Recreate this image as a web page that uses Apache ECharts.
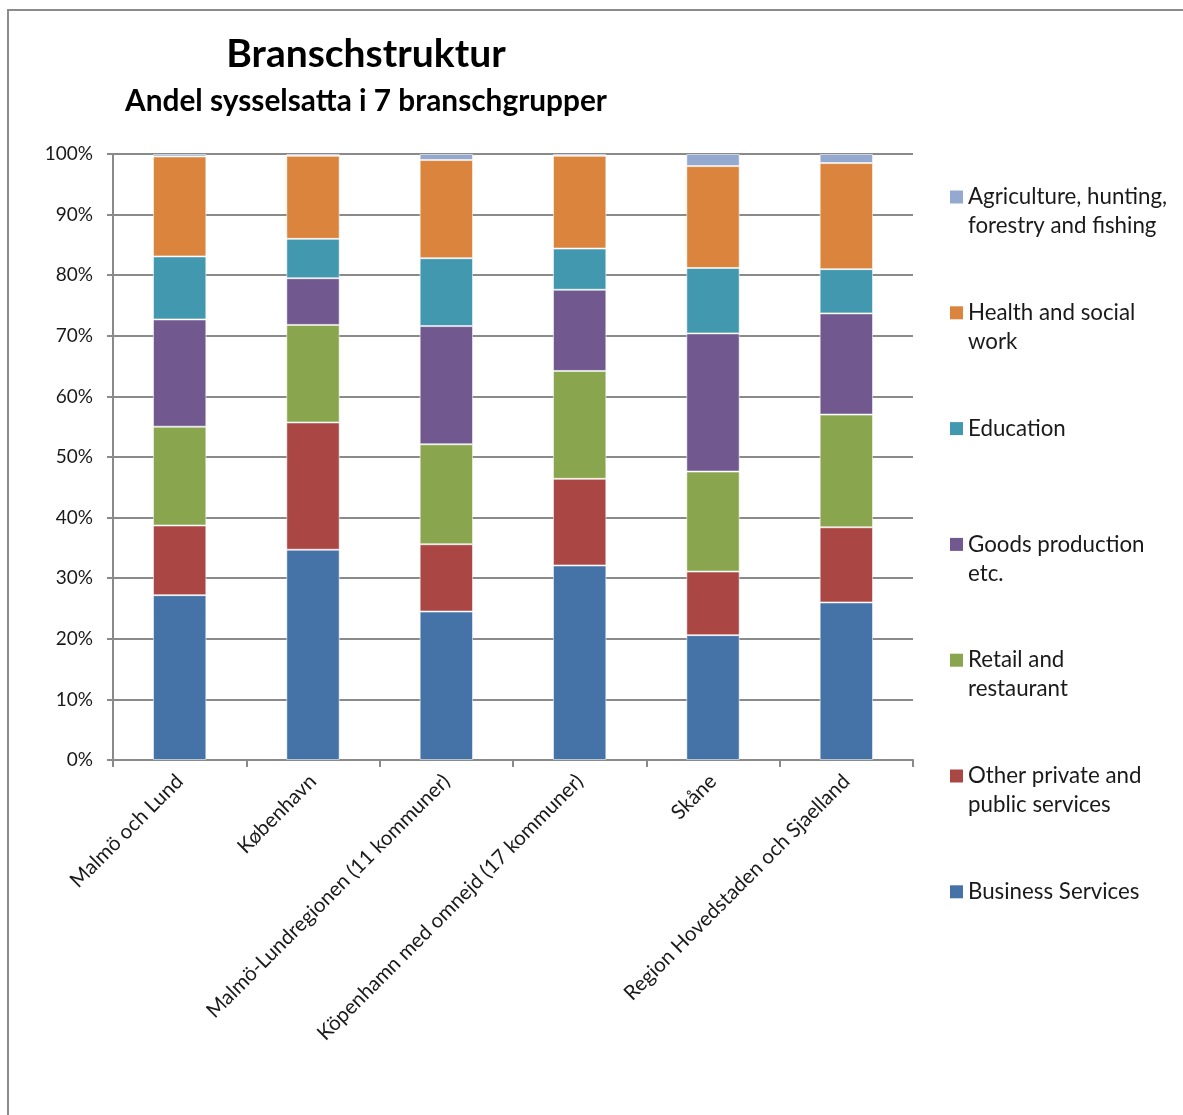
<!DOCTYPE html>
<html>
<head>
<meta charset="utf-8">
<script src="https://cdn.jsdelivr.net/npm/echarts@6/dist/echarts.min.js"></script>
<style>
  html, body { margin: 0; padding: 0; background: #fff; }
  #myChart { width: 1183px; height: 1115px; }
</style>
</head>
<body>
<div id="myChart"></div>
<script>
var categories = [
  "Malmö och Lund",
  "København",
  "Malmö-Lundregionen (11 kommuner)",
  "Köpenhamn med omnejd (17 kommuner)",
  "Skåne",
  "Region Hovedstaden och Sjaelland"
];
var yTicks = [0, 10, 20, 30, 40, 50, 60, 70, 80, 90, 100];

// andel sysselsatta i procent, nerifrån och upp
var businessServices = [27.2, 34.7, 24.5, 32.1, 20.6, 26.0];
var otherServices = [11.5, 21.0, 11.1, 14.3, 10.5, 12.4];
var retailRestaurant = [16.3, 16.1, 16.5, 17.8, 16.5, 18.6];
var goodsProduction = [17.7, 7.7, 19.5, 13.4, 22.8, 16.7];
var education = [10.4, 6.5, 11.2, 6.8, 10.8, 7.3];
var healthSocial = [16.5, 13.7, 16.2, 15.3, 16.8, 17.5];
var agriculture = [0.4, 0.3, 1.0, 0.3, 2.0, 1.5];

var seriesNames = [
  "Business Services",
  "Other private and public services",
  "Retail and restaurant",
  "Goods production etc.",
  "Education",
  "Health and social work",
  "Agriculture, hunting, forestry and fishing"
];
// legendtext, rad 1 och rad 2
var legendLine1 = ["Business Services", "Other private and", "Retail and", "Goods production", "Education", "Health and social", "Agriculture, hunting,"];
var legendLine2 = ["", "public services", "restaurant", "etc.", "", "work", "forestry and fishing"];
var colors = ["#4572A7", "#AA4643", "#89A54E", "#71588F", "#4198AF", "#DB843D", "#93A9CF"];
var values = [businessServices, otherServices, retailRestaurant, goodsProduction, education, healthSocial, agriculture];

var fontFamily = "Lato, 'Open Sans', sans-serif";
var gridColor = "#8a8a8a";
var textColor = "#1a1a1a";

var chartDom = echarts.init(document.getElementById("myChart"));

var series = seriesNames.map(function (name, i) {
  return {
    name: name,
    type: "bar",
    stack: "total",
    barWidth: "40%",
    itemStyle: {
      color: colors[i],
      borderColor: "rgba(255,255,255,0.55)",
      borderWidth: 1
    },
    data: values[i]
  };
});

// en legend per serie, översta först
var legendX = 950;
var legendTop = 197;
var legendStep = 115.8;
var legends = [];
var graphics = [
  {
    type: "rect",
    shape: { x: 8, y: 10, width: 1300, height: 1300 },
    style: { fill: "none", stroke: "#8c8c8c", lineWidth: 2 },
    silent: true
  }
];
seriesNames.forEach(function (name, i) {
  var row = seriesNames.length - 1 - i;
  var cy = legendTop + row * legendStep;
  legends.push({
    orient: "vertical",
    left: legendX,
    top: cy - 14.5,
    padding: 0,
    itemWidth: 13,
    itemHeight: 13,
    icon: "rect",
    itemStyle: { borderWidth: 0 },
    data: [name],
    formatter: function () {
      return legendLine1[i];
    },
    textStyle: {
      fontFamily: fontFamily,
      fontSize: 22.3,
      lineHeight: 29,
      color: textColor
    }
  });
  if (legendLine2[i]) {
    graphics.push({
      type: "text",
      x: legendX + 18,
      y: cy + 29,
      silent: true,
      style: {
        text: legendLine2[i],
        fontFamily: fontFamily,
        fontSize: 22.3,
        fill: textColor,
        verticalAlign: "middle"
      }
    });
  }
});

var option = {
  animation: false,
  textStyle: { fontFamily: fontFamily },
  graphic: graphics,
  title: [
    {
      text: "Branschstruktur",
      left: 366,
      top: 35,
      padding: 0,
      textAlign: "center",
      textStyle: { fontFamily: fontFamily, fontSize: 39, fontWeight: "bold", color: "#000" }
    },
    {
      text: "Andel sysselsatta i 7 branschgrupper",
      left: 366,
      top: 86,
      padding: 0,
      textAlign: "center",
      textStyle: { fontFamily: fontFamily, fontSize: 29.8, fontWeight: "bold", color: "#000" }
    }
  ],
  legend: legends,
  grid: {
    left: 113,
    right: 270,
    top: 154,
    bottom: 355
  },
  xAxis: {
    type: "category",
    data: categories,
    axisLine: { lineStyle: { color: gridColor, width: 2 } },
    axisTick: { show: true, length: 7, lineStyle: { color: gridColor, width: 2 } },
    axisLabel: {
      interval: 0,
      rotate: 45,
      margin: 18,
      fontSize: 20.5,
      fontFamily: fontFamily,
      color: textColor
    }
  },
  yAxis: {
    type: "value",
    min: yTicks[0],
    max: yTicks[yTicks.length - 1],
    interval: 10,
    axisLine: { show: true, lineStyle: { color: gridColor, width: 2 } },
    axisTick: { show: true, length: 6, lineStyle: { color: gridColor, width: 2 } },
    splitLine: { show: true, lineStyle: { color: gridColor, width: 2 } },
    axisLabel: {
      margin: 20,
      fontSize: 19,
      fontFamily: fontFamily,
      color: textColor,
      formatter: "{value}%"
    }
  },
  series: series
};

chartDom.setOption(option);
</script>
</body>
</html>
